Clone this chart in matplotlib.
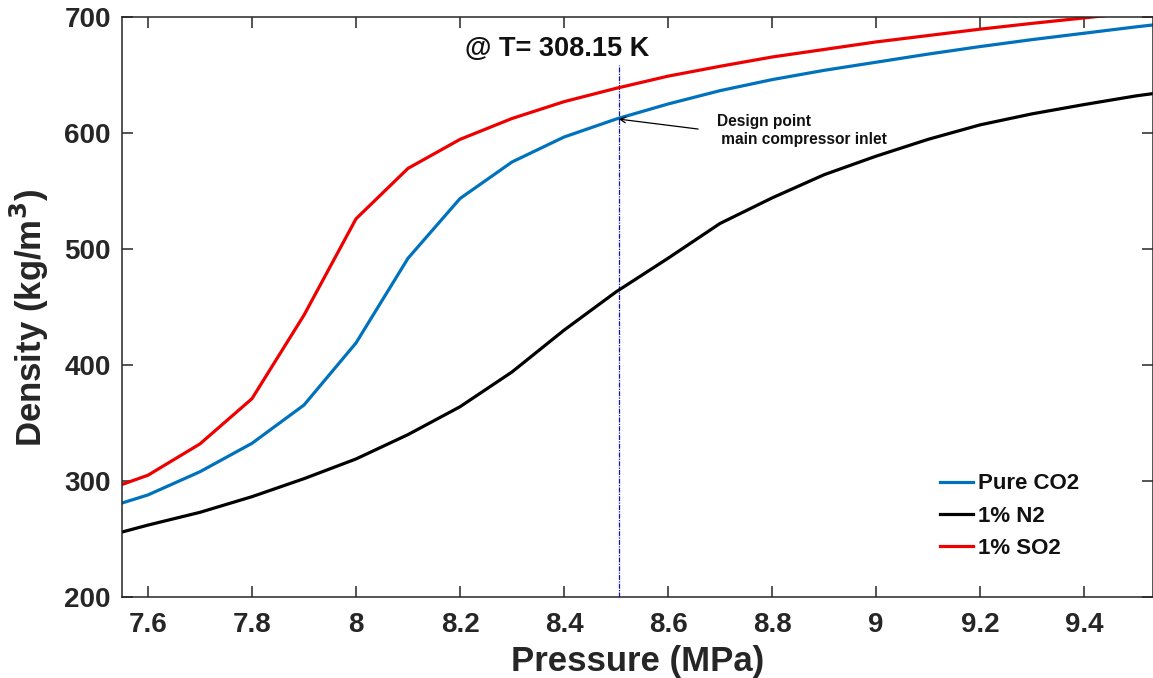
import matplotlib
matplotlib.use("Agg")
import matplotlib.pyplot as plt

# ---- data ----
pressure = [7.55, 7.6, 7.7, 7.8, 7.9, 8.0, 8.1, 8.2, 8.3, 8.4, 8.5,
            8.6, 8.7, 8.8, 8.9, 9.0, 9.1, 9.2, 9.3, 9.4, 9.5, 9.6]
pure_co2 = [281, 288, 308, 332.5, 365.5, 419, 492, 543.5, 575, 596.5, 612,
            625, 636.5, 646, 654, 661, 668, 674.5, 680.5, 686, 691.5, 696.5]
n2_1pct = [256, 262, 273, 286.5, 302, 319, 340, 364, 394, 430, 463,
           492, 522, 544, 564, 580, 594.5, 607, 616.5, 624.5, 632, 638]
so2_1pct = [297, 305, 332, 371, 443, 526, 569.5, 594.5, 612.5, 627, 638.5,
            649, 657.5, 665.5, 672, 678.5, 684, 689.5, 694.5, 699.2, 704, 708]
series_labels = ["Pure CO2", "1% N2", "1% SO2"]
design_pressure = 8.505
design_density = 612
x_ticks = [7.6, 7.8, 8.0, 8.2, 8.4, 8.6, 8.8, 9.0, 9.2, 9.4]
x_ticklabels = ["7.6", "7.8", "8", "8.2", "8.4", "8.6", "8.8", "9", "9.2", "9.4"]
y_ticks = [200, 300, 400, 500, 600, 700]

plt.rcParams['font.family'] = ['Liberation Sans', 'DejaVu Sans']
plt.rcParams['font.weight'] = 'bold'

W, H = 1153, 678
fig = plt.figure(figsize=(W / 100, H / 100), dpi=100)
ax = fig.add_axes([122 / W, 1 - 597 / H, 1031 / W, 580 / H])

dark = '#262626'
blue = '#0072BD'
red = '#EE0000'

ax.plot(pressure, pure_co2, color=blue, lw=2.3, label=series_labels[0])
ax.plot(pressure, n2_1pct, color='black', lw=2.3, label=series_labels[1])
ax.plot(pressure, so2_1pct, color=red, lw=2.3, label=series_labels[2])

ax.plot([design_pressure, design_pressure], [200, 659], color='#1010c0',
        lw=0.9, ls=(0, (4, 1, 1, 1)), zorder=1)

ax.set_xlim(7.55, 7.55 + 1031 / 520)
ax.set_ylim(200, 700)
ax.set_xticks(x_ticks)
ax.set_xticklabels(x_ticklabels)
ax.set_yticks(y_ticks)

ax.tick_params(axis='both', direction='in', length=8, width=1.1, color=dark,
               labelsize=20, labelcolor=dark, top=True, right=True)
ax.tick_params(axis='x', pad=11)
ax.tick_params(axis='y', pad=8)
for lab in ax.get_xticklabels() + ax.get_yticklabels():
    lab.set_fontweight('bold')
for s in ax.spines.values():
    s.set_color(dark)
    s.set_linewidth(1.1)

ax.set_xlabel("Pressure (MPa)", fontsize=25, fontweight='bold', color=dark, labelpad=5)
ax.set_ylabel("Density (kg/m$\\mathbf{^3}$)", fontsize=25, fontweight='bold', color=dark)
ax.yaxis.set_label_coords(-(122 - 51) / 1031, (597 - 318) / 580)

ax.text(8.387, 672, "@ T= 308.15 K", fontsize=19.5, fontweight='bold',
        ha='center', va='center', color='#111111')

ax.annotate("", xy=(design_pressure, design_density), xytext=(8.658, 603.4),
            arrowprops=dict(arrowstyle='->', color='black', lw=0.9, shrinkA=0, shrinkB=0))
ax.text(8.694, 602, "Design point\n main compressor inlet", fontsize=11.2,
        fontweight='bold', color='#111111', ha='left', va='center', linespacing=1.25)

leg = ax.legend(loc='center left', bbox_to_anchor=((940 - 122) / 1031, (597 - 516) / 580),
                frameon=False, fontsize=16, handlelength=1.5, handletextpad=0.2,
                borderpad=0, borderaxespad=0, labelspacing=0.5)
for t in leg.get_texts():
    t.set_fontweight('bold')
    t.set_color('#111111')

fig.savefig("out.png", dpi=100)
